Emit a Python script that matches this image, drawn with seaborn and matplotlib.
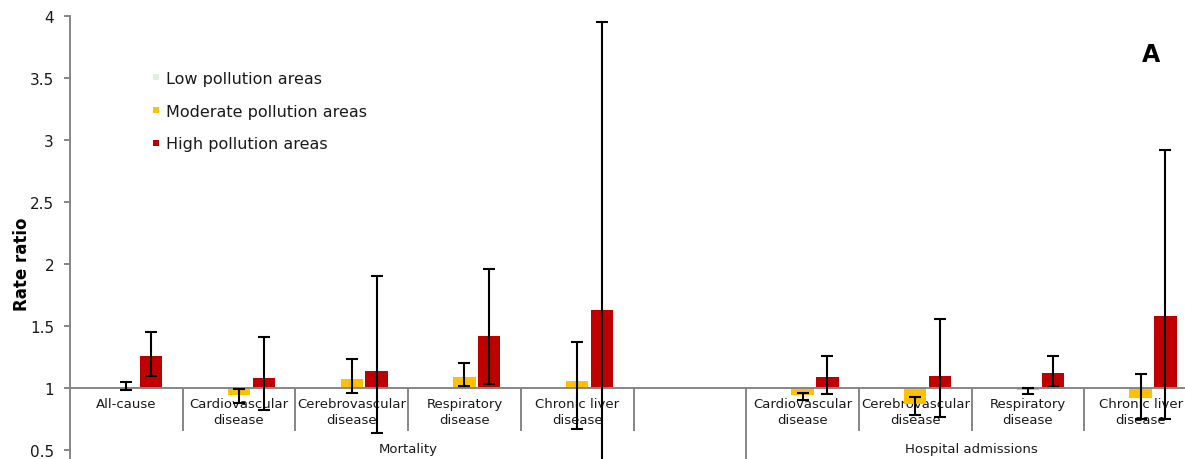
import matplotlib
matplotlib.use("Agg")
import matplotlib.pyplot as plt
from matplotlib.lines import Line2D
from matplotlib.ticker import FuncFormatter, MultipleLocator
import numpy as np
import pandas as pd
import seaborn as sns

# ---- data -------------------------------------------------------------
slot_keys = ["M_all", "M_cvd", "M_cbv", "M_resp", "M_liver", "gap",
             "H_cvd", "H_cbv", "H_resp", "H_liver"]
slot_labels = ["All-cause", "Cardiovascular\ndisease", "Cerebrovascular\ndisease",
               "Respiratory\ndisease", "Chronic liver\ndisease", "",
               "Cardiovascular\ndisease", "Cerebrovascular\ndisease",
               "Respiratory\ndisease", "Chronic liver\ndisease"]
outcome_keys = ["M_all", "M_cvd", "M_cbv", "M_resp", "M_liver",
                "H_cvd", "H_cbv", "H_resp", "H_liver"]
group_names = ["Mortality", "Hospital admissions"]

levels = ["Low pollution areas", "Moderate pollution areas", "High pollution areas"]

low_rr = [1.00, 1.00, 1.00, 1.00, 1.00, 1.00, 1.00, 1.00, 1.00]

moderate_rr = [1.01, 0.94, 1.07, 1.09, 1.06, 0.94, 0.87, 0.98, 0.92]
moderate_lo = [0.98, 0.88, 0.96, 1.02, 0.67, 0.90, 0.78, 0.95, 0.75]
moderate_hi = [1.05, 0.99, 1.23, 1.20, 1.37, 0.96, 0.93, 1.00, 1.11]

high_rr = [1.26, 1.08, 1.14, 1.42, 1.63, 1.09, 1.10, 1.12, 1.58]
high_lo = [1.10, 0.82, 0.64, 1.03, 0.40, 0.95, 0.77, 1.02, 0.75]
high_hi = [1.45, 1.41, 1.90, 1.96, 3.95, 1.26, 1.56, 1.26, 2.92]

colors = ["#E2EFDA", "#FFC000", "#C00000"]
axis_grey = "#868686"
text_col = "#1a1a1a"

# ---- long table ---------------------------------------------------------
rows = []
for lvl, rr in zip(levels, [low_rr, moderate_rr, high_rr]):
    for key, v in zip(outcome_keys, rr):
        rows.append({"slot": key, "level": lvl, "rr": v, "excess": v - 1.0})
df = pd.DataFrame(rows)

ci = {
    levels[1]: dict(zip(outcome_keys, zip(moderate_lo, moderate_hi))),
    levels[2]: dict(zip(outcome_keys, zip(high_lo, high_hi))),
}

# ---- figure -------------------------------------------------------------
sns.set_theme(style="white")
plt.rcParams["font.family"] = ["DejaVu Sans"]

fig = plt.figure(figsize=(11.85, 4.6), dpi=100)
ax = fig.add_axes([70 / 1185, 0.0, 1127 / 1185, 443 / 460])

# bars rise or fall from the reference ratio of 1
sns.barplot(data=df, x="slot", y="excess", hue="level",
            order=slot_keys, hue_order=levels, palette=colors, saturation=1,
            width=0.66, gap=0.1, errorbar=None, bottom=1.0,
            linewidth=0, legend=False, ax=ax)

# confidence intervals on the moderate and high bars
for cont, lvl in zip(ax.containers, levels):
    if lvl not in ci:
        continue
    for bar in cont:
        cx = bar.get_x() + bar.get_width() / 2
        key = slot_keys[int(round(cx))]
        val = bar.get_y() + bar.get_height()
        lo, hi = ci[lvl][key]
        ax.errorbar([cx], [val], yerr=[[val - lo], [hi - val]], fmt="none",
                    ecolor="black", elinewidth=1.5, capsize=4.1, capthick=1.5,
                    zorder=4)

# axes styling
ax.set_xlim(-0.5, len(slot_keys) - 0.5)
ax.set_ylim(4 - 443 / 124, 4.0)
ax.yaxis.set_major_locator(MultipleLocator(0.5))
ax.yaxis.set_major_formatter(FuncFormatter(lambda v, p: f"{v:g}" if v >= 0.5 else ""))

for s in ["top", "right"]:
    ax.spines[s].set_visible(False)
ax.spines["left"].set_color(axis_grey)
ax.spines["left"].set_linewidth(1.4)
ax.spines["bottom"].set_color(axis_grey)
ax.spines["bottom"].set_linewidth(1.4)
ax.spines["bottom"].set_position(("data", 1.0))

ax.tick_params(axis="y", direction="out", length=4.5, width=1.4, color=axis_grey,
               labelsize=11, labelcolor=text_col, pad=7, left=True)
ax.tick_params(axis="x", length=0, labelsize=9.5, labelcolor=text_col, pad=6.5)
ax.set_xticks(range(len(slot_keys)))
ax.set_xticklabels(slot_labels)
for lab in ax.get_xticklabels():
    lab.set_linespacing(1.25)

ax.set_xlabel("")
ax.set_ylabel("Rate ratio", fontsize=12, fontweight="bold", color="black")
ax.yaxis.set_label_coords(-0.0346, 0.442)

# category separators below the axis line
ybot = ax.get_ylim()[0]
short_seps = [0.5, 1.5, 2.5, 3.5, 4.5, 6.5, 7.5, 8.5]
ax.vlines(short_seps, 0.652, 1.0, colors=axis_grey, linewidth=1.4, zorder=1)
ax.vlines([5.5], ybot, 1.0, colors=axis_grey, linewidth=1.4, zorder=1)

# group labels
trans = ax.get_xaxis_transform()
ax.text(2.5, (460 - 450) / 443, group_names[0], transform=trans,
        ha="center", va="center", fontsize=9.5, color=text_col)
ax.text(7.5, (460 - 450) / 443, group_names[1], transform=trans,
        ha="center", va="center", fontsize=9.5, color=text_col)

# legend
handles = [Line2D([], [], marker="s", linestyle="", markersize=5.0,
                  markerfacecolor=c, markeredgewidth=0) for c in colors]
ax.legend(handles, levels, loc="upper left",
          bbox_to_anchor=(152 / 1185, 1 - 72 / 460), bbox_transform=fig.transFigure,
          frameon=False, fontsize=11.5, labelspacing=1.1, handlelength=0.5,
          handletextpad=0.35, borderpad=0, borderaxespad=0, labelcolor=text_col)

fig.text(1151 / 1185, 1 - 55 / 460, "A", ha="center", va="center",
         fontsize=17, fontweight="bold", color="black")

fig.savefig("out.png", dpi=100)
